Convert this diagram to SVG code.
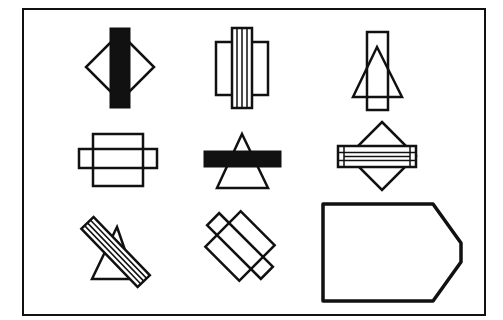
<svg xmlns="http://www.w3.org/2000/svg" width="503" height="320" viewBox="0 0 503 320">
<style>
.o{fill:none;stroke:#111;stroke-width:2.5;stroke-linejoin:miter}
.w{fill:#fff;stroke:#111;stroke-width:2.5}
.t{fill:none;stroke:#111;stroke-width:1.5}
.k{fill:#111;stroke:#111;stroke-width:1}
</style>
<rect width="503" height="320" fill="#fff"/>
<rect id="frame" x="23" y="9" width="462" height="306" fill="none" stroke="#111" stroke-width="2"/>
<g id="fig1">
<polygon class="o" points="120,33 154,67 120,101 86,67"/>
<rect class="k" x="110" y="28" width="20" height="80"/>
</g>
<g id="fig2">
<rect class="o" x="216" y="42" width="52" height="53"/>
<rect class="w" x="232" y="28" width="20" height="80"/>
<path class="t" d="M237,28V108M242,28V108M247,28V108"/>
</g>
<g id="fig3">
<rect class="o" x="367" y="32" width="21" height="78"/>
<polygon class="o" points="377,47 402,97 353,97"/>
</g>
<g id="fig4">
<rect class="o" x="93" y="134" width="50" height="52"/>
<rect class="o" x="79" y="149" width="78" height="19"/>
</g>
<g id="fig5">
<polygon class="o" points="242,134 268,188 217,188"/>
<rect class="k" x="204" y="151" width="77" height="16"/>
</g>
<g id="fig6">
<polygon class="o" points="382,122 416,156 382,190 348,156"/>
<rect class="w" x="338" y="146" width="78" height="21"/>
<path class="t" d="M338,152.5H416M338,160.5H416M344,146V167M410,146V167M344,156.5H410"/>
</g>
<g id="fig7">
<polygon class="o" points="117,227 135,279 92,279"/>
<g transform="translate(115.6,252) rotate(46)">
<rect class="w" x="-40.5" y="-8.5" width="81" height="17"/>
<path class="t" d="M-40.5,-4H40.5M-40.5,0H40.5M-40.5,4H40.5"/>
</g>
</g>
<g id="fig8" transform="translate(240,246) rotate(45)">
<rect class="o" x="-24" y="-25" width="48" height="50"/>
<rect class="o" x="-38" y="-8.5" width="76" height="17"/>
</g>
<g id="fig9">
<polygon fill="none" stroke="#111" stroke-width="3.5" stroke-linejoin="round" points="323,204 433,204 461,243 461,262 433,301 323,301"/>
</g>
</svg>
